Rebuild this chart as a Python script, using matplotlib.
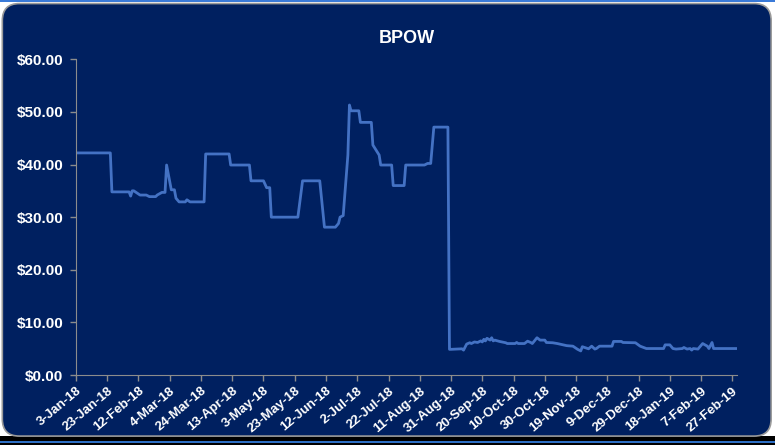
import matplotlib
matplotlib.use('Agg')
import matplotlib.pyplot as plt
from matplotlib.patches import FancyBboxPatch, Rectangle
import pandas as pd

# BPOW closing price (days counted from 3-Jan-18)
start = pd.Timestamp('2018-01-03')
day = [0, 22, 23, 34, 35, 36, 37, 41, 45, 47, 51, 52, 55, 57, 58, 61, 63, 64, 66,
       70, 71, 73, 82, 83, 98, 99, 111, 112, 120, 122, 124, 125, 142, 145,
       156, 159, 166, 168, 169, 171, 174, 175, 176, 181, 182, 189, 190, 194, 195,
       202, 203, 210, 211, 223, 225, 227, 229, 238, 239,
       240, 247, 248, 250, 252, 253, 255, 257, 259, 260, 261, 262, 263, 265, 266,
       267, 268, 271, 275, 276, 281, 282, 283, 287, 289, 291, 292, 295, 297, 300,
       301, 305, 308, 311, 314, 318, 321, 323, 324, 327, 328, 330, 332, 333, 335,
       343, 344, 349, 350, 358, 361, 365, 376, 377, 380, 382, 384, 388, 389, 391,
       393, 394, 395, 398, 401, 404, 405, 407, 408, 423]
price = [42.2, 42.2, 34.8, 34.8, 34.0, 35.0, 35.0, 34.2, 34.2, 33.9, 33.9, 34.2, 34.7, 34.7, 39.9,
         35.2, 35.2, 33.6, 32.9, 32.9, 33.3, 32.9, 32.9, 42.0, 42.0, 39.9, 39.9, 36.9,
         36.9, 35.6, 35.6, 30.0, 30.0, 36.9,
         36.9, 28.1, 28.1, 28.8, 30.0, 30.3, 41.8, 51.3, 50.2, 50.2, 48.0, 48.0, 43.7,
         41.8, 39.9, 39.9, 36.0, 36.0, 39.9, 39.9, 40.2, 40.2, 47.1, 47.1, 4.9,
         4.9, 5.0, 4.75, 5.9, 6.15, 6.0, 6.3, 6.2, 6.5, 6.3, 6.8, 6.5, 7.0, 6.65, 7.1,
         6.5, 6.65, 6.4, 6.15, 6.0, 6.0, 6.2, 6.0, 6.0, 6.45, 6.2, 6.0, 7.1, 6.65, 6.65,
         6.2, 6.15, 6.0, 5.8, 5.6, 5.5, 4.9, 4.6, 5.4, 5.1, 5.0, 5.5, 4.95, 5.05, 5.5,
         5.5, 6.4, 6.4, 6.2, 6.15, 5.5, 5.05, 5.05, 5.75, 5.75, 5.05, 4.95, 5.05, 5.25, 4.95,
         5.05, 4.75, 5.05, 4.95, 6.0, 5.5, 5.05, 6.2, 5.05, 5.05]
dates = start + pd.to_timedelta(day, unit='D')

tick_dates = pd.date_range('2018-01-03', '2019-02-27', freq='20D')
tick_labels = [f'{d.day}-{d.strftime("%b-%y")}' for d in tick_dates]
y_ticks = [0, 10, 20, 30, 40, 50, 60]

navy = '#002060'
grey = '#8c8c8c'
font = 'Liberation Sans'

fig = plt.figure(figsize=(7.75, 4.45), dpi=100)
fig.patch.set_facecolor('white')

# frame around the chart
fig.patches.append(Rectangle((0, 0), 1, 0.02, transform=fig.transFigure,
                             facecolor='black', edgecolor='none', zorder=-3))
fig.patches.append(Rectangle((0, 0.004), 1, 0.004, transform=fig.transFigure,
                             facecolor='#2d6fc4', edgecolor='none', zorder=-3))
fig.patches.append(Rectangle((0, 0.996), 1, 0.004, transform=fig.transFigure,
                             facecolor='#3a7ad8', edgecolor='none', zorder=-3))
fig.patches.append(FancyBboxPatch((0.003, 0.02), 0.992, 0.972,
                                  boxstyle='round,pad=0,rounding_size=0.022',
                                  transform=fig.transFigure, mutation_aspect=775 / 445,
                                  facecolor=navy, edgecolor='#9a9a9a', linewidth=1.2,
                                  zorder=-2))

ax = fig.add_axes([0.098, 0.157, 0.853, 0.71])
ax.set_zorder(2)
ax.set_facecolor('none')
ax.plot(dates, price, color='#4472C4', linewidth=2)

ax.set_xlim(start, start + pd.Timedelta(days=423))
ax.set_ylim(0, 60)
ax.set_xticks(tick_dates)
ax.set_xticklabels(tick_labels, rotation=40, ha='right', rotation_mode='anchor',
                   fontsize=9.5, fontweight='bold', color='white', family=font)
ax.set_yticks(y_ticks)
ax.set_yticklabels([f'${v:.2f}' for v in y_ticks], fontsize=11,
                   fontweight='bold', color='white', family=font)

for side in ['top', 'right']:
    ax.spines[side].set_visible(False)
for side in ['left', 'bottom']:
    ax.spines[side].set_color(grey)
ax.tick_params(axis='both', colors=grey, direction='out', length=4, width=1)
ax.tick_params(axis='x', pad=3)
ax.tick_params(axis='y', pad=5)
for lbl in ax.get_xticklabels() + ax.get_yticklabels():
    lbl.set_color('white')

ax.set_title('BPOW', fontsize=13, fontweight='bold', color='white',
             family=font, pad=12)

fig.savefig('out.png', dpi=100, facecolor=fig.get_facecolor())
